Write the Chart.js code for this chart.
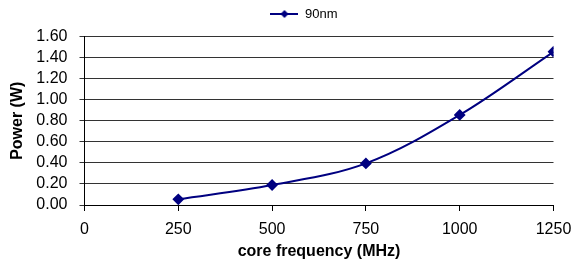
<!DOCTYPE html>
<html><head><meta charset="utf-8">
<script src="https://cdn.jsdelivr.net/npm/chart.js@4/dist/chart.umd.min.js"></script>
<style>html,body{margin:0;padding:0;background:#fff}#wrap{width:574px;height:266px}</style>
</head><body><div id="wrap"><canvas id="c"></canvas></div>
<script>
const seriesName = "90nm";
const frequencies = [250, 500, 750, 1000, 1250];
const power = [0.054, 0.19, 0.395, 0.855, 1.455];
const xTicks = [0, 250, 500, 750, 1000, 1250];
const yTicks = [0, 0.2, 0.4, 0.6, 0.8, 1.0, 1.2, 1.4, 1.6];

const navy = '#000080';
const icon = document.createElement('canvas');
icon.width = 28; icon.height = 10;
const ic = icon.getContext('2d');
ic.strokeStyle = navy; ic.lineWidth = 2;
ic.beginPath(); ic.moveTo(0,5); ic.lineTo(28,5); ic.stroke();
ic.fillStyle = navy;
ic.beginPath(); ic.moveTo(14,1); ic.lineTo(18,5); ic.lineTo(14,9); ic.lineTo(10,5); ic.closePath(); ic.fill();

Chart.defaults.font.family = "'Liberation Sans', Arial, sans-serif";
Chart.defaults.color = '#000';

const legendTweak = {
  id: 'legendTweak',
  beforeInit(chart) {
    const lg = chart.legend;
    const fit = lg.fit;
    lg.fit = function() { fit.call(this); this.height += 6; };
  },
  afterLayout(chart) {
    const lg = chart.legend;
    lg.left += 17; lg.right += 17;
  }
};

new Chart(document.getElementById('c'), {
  type: 'line',
  data: {
    datasets: [{
      label: seriesName,
      data: frequencies.map((f,i)=>({x:f, y:power[i]})),
      borderColor: navy,
      backgroundColor: navy,
      borderWidth: 2,
      pointStyle: 'rectRot',
      pointRadius: 4.5,
      pointHoverRadius: 4.5,
      tension: 0.35,
      fill: false
    }]
  },
  plugins: [legendTweak],
  options: {
    responsive: true,
    maintainAspectRatio: false,
    animation: false,
    layout: { padding: { left: 0, right: 0, top: 0, bottom: 0 } },
    plugins: {
      tooltip: { enabled: false },
      legend: {
        position: 'top',
        labels: {
          usePointStyle: true,
          pointStyleWidth: 28,
          generateLabels: (chart) => [{ text: seriesName, pointStyle: icon, fillStyle: navy, strokeStyle: navy, lineWidth: 0, datasetIndex: 0 }],
          font: { size: 13 },
          padding: 7.5,
          boxHeight: 10
        }
      }
    },
    scales: {
      x: {
        type: 'linear',
        min: 0, max: 1250,
        afterBuildTicks: (s) => { s.ticks = xTicks.map(v=>({value:v})); },
        afterFit: (s) => { s.height = 61; s.paddingRight = 20.5; },
        ticks: { font: { size: 16 }, padding: 9, maxRotation: 0, autoSkip: false, callback: (v)=>String(v) },
        grid: { drawOnChartArea: false, drawTicks: true, tickLength: 6, color: '#000' },
        border: { color: '#000', width: 1 },
        title: { display: true, text: 'core frequency (MHz)', font: { size: 16, weight: 'bold' }, padding: { top: 5, bottom: 5 } }
      },
      y: {
        min: 0, max: 1.6,
        afterBuildTicks: (s) => { s.ticks = yTicks.map(v=>({value:v})); },
        afterFit: (s) => { s.width = 84.5; },
        ticks: { font: { size: 16 }, padding: 12, autoSkip: false, callback: (v)=>Number(v).toFixed(2) },
        grid: { drawOnChartArea: true, drawTicks: true, tickLength: 5, color: '#333' },
        border: { color: '#000', width: 1 },
        title: { display: true, text: 'Power (W)', font: { size: 16, weight: 'bold' }, padding: { top: 8, bottom: 0 } }
      }
    }
  }
});
</script></body></html>
